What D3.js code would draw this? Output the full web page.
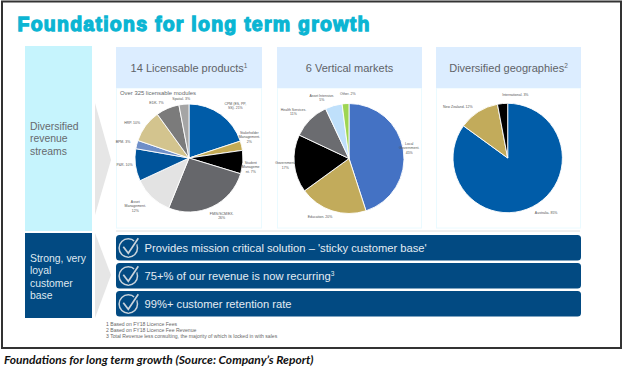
<!DOCTYPE html>
<html>
<head>
<meta charset="utf-8">
<script src="https://cdn.jsdelivr.net/npm/d3@7"></script>
<style>
  html, body { margin: 0; padding: 0; background: #fff; }
  svg { display: block; }
  text { font-family: "Liberation Sans", Arial, sans-serif; }
</style>
</head>
<body>
<div id="container"></div>
<script>
let w = 622;
let h = 370;

// chart values, slices
let productNames = ["CPM (ES, PP,|SS). 21%", "Stakeholder|Management.|2%", "Student|Manageme|nt. 7%", "FMIS/SCM/EX.|26%", "Asset|Management.|12%", "P&R. 10%", "BPM. 3%", "HRP. 10%", "EDK. 7%", "Spatial. 3%"];
let productValues = [20, 2.8, 7, 26.5, 12, 9.7, 2.5, 9.8, 7, 3];
let productColors = ["#005ca8", "#c4ab55", "#000000", "#66676b", "#e3e3e3", "#00549b", "#6f8fc8", "#d3c48e", "#7b7b7b", "#a5a5a5"];

let marketNames = ["Local|Government.|45%", "Education. 20%", "Government.|17%", "Health Services.|11%", "Asset Intensive.|5%", "Other. 2%"];
let marketValues = [45, 20, 17, 11, 5, 2];
let marketColors = ["#4472c4", "#c2ab5b", "#000000", "#6b6c70", "#bfe0fb", "#9ed553"];

let geoNames = ["Australia. 85%", "New Zealand. 12%", "International. 3%"];
let geoValues = [85, 12, 3];
let geoColors = ["#005ca8", "#c2ab5b", "#000000"];

let headers = ["14 Licensable products", "6 Vertical markets", "Diversified geographies"];
let headerSups = ["1", "", "2"];
let bullets = ["Provides mission critical solution \u2013 'sticky customer base'", "75+% of our revenue is now recurring", "99%+ customer retention rate"];
let bulletSups = ["", "3", ""];
let footnotes = ["1 Based on FY18 Licence Fees", "2 Based on FY18 Licence Fee Revenue", "3 Total Revenue less consulting, the majority of which is locked in with sales"];

let svg = d3.select("#container").append("svg")
  .attr("width", w)
  .attr("height", h);

// frame
svg.append("rect").attr("x", 2).attr("y", 1.5).attr("width", 619).attr("height", 346.5)
  .attr("fill", "#fff").attr("stroke", "#333").attr("stroke-width", 2);

svg.append("text").attr("x", 17.5).attr("y", 31)
  .text("Foundations for long term growth")
  .attr("font-size", 19.5).attr("font-weight", "bold").attr("letter-spacing", 1.25)
  .attr("fill", "#0bb5d3").attr("stroke", "#0bb5d3").attr("stroke-width", 1.3);

// left column
svg.append("rect").attr("x", 25).attr("y", 46).attr("width", 67).attr("height", 185).attr("fill", "#c6f4fd");
svg.append("rect").attr("x", 25).attr("y", 233).attr("width", 67).attr("height", 85).attr("fill", "#024a82");

function leftText(lines, y0, color) {
  svg.append("g").selectAll("text").data(lines).enter().append("text")
    .attr("x", 30).attr("y", (d, i) => y0 + i * 12.4)
    .attr("font-size", 10.4).attr("fill", color)
    .text(d => d);
}
leftText(["Diversified", "revenue", "streams"], 130, "#666a6e");
leftText(["Strong, very", "loyal", "customer", "base"], 262, "#dfe8f0");

// chevrons
svg.append("path").attr("d", "M95,103 L111,160 L95,215 Z").attr("fill", "#e6e6e6");
svg.append("path").attr("d", "M95,233 L111,275 L95,318 Z").attr("fill", "#e6e6e6");

// panels
let panelX = [116, 277, 436];
let panelW = [146, 145, 145];
panelX.forEach(function(x, i) {
  svg.append("rect").attr("x", x + 0.5).attr("y", 88).attr("width", panelW[i] - 1).attr("height", 140)
    .attr("fill", "#fff").attr("stroke", "#eafaff").attr("stroke-width", 1);
  svg.append("rect").attr("x", x).attr("y", 47).attr("width", panelW[i]).attr("height", 41).attr("fill", "#dcedff");
  let t = svg.append("text").attr("x", x + panelW[i] / 2).attr("y", 72)
    .attr("text-anchor", "middle").attr("font-size", 11).attr("fill", "#5f6368")
    .text(headers[i]);
  if (headerSups[i]) {
    t.append("tspan").attr("dy", -4).attr("font-size", 6.5).text(headerSups[i]);
  }
});

svg.append("text").attr("x", 120).attr("y", 95).attr("font-size", 5.9).attr("fill", "#66696d")
  .text("Over 325 licensable modules");

// one pie, labels pushed out from the slice middle plus a small nudge
function drawPie(cx, cy, r, names, values, colors, nudges) {
  let pie = d3.pie().sort(null).value(d => d);
  let arc = d3.arc().innerRadius(0).outerRadius(r);
  let g = svg.append("g").attr("transform", "translate(" + cx + "," + cy + ")");
  let arcs = pie(values);

  g.selectAll("path").data(arcs).enter().append("path")
    .attr("d", arc)
    .attr("fill", (d, i) => colors[i])
    .attr("stroke", "#fff").attr("stroke-width", 0.9);

  let labels = g.selectAll("text").data(arcs).enter().append("text")
    .attr("text-anchor", "middle")
    .attr("font-size", 3.5)
    .attr("fill", "#555");

  labels.each(function(d, i) {
    let mid = (d.startAngle + d.endAngle) / 2;
    let x = Math.sin(mid) * (r + 8) + nudges[i][0];
    let y = -Math.cos(mid) * (r + 8) + nudges[i][1];
    d3.select(this).selectAll("tspan").data(names[i].split("|")).enter().append("tspan")
      .attr("x", x)
      .attr("y", (t, k) => y + k * 4.5)
      .text(t => t);
  });
}

let productNudges = [[10, -3], [0, -10], [0, 1], [6, 1], [-11, 0], [-3, 0], [-6, 0.5], [-7, 2.5], [-8, 3], [-2, 3.3]];
let marketNudges = [[-2, -4], [-9.5, 0], [-1, 0], [-11, -3], [-9.7, -1.5], [2.7, -0.6]];
let geoNudges = [[10, 0.6], [-16.3, 3], [13.5, 0.9]];

drawPie(189, 158, 54, productNames, productValues, productColors, productNudges);
drawPie(349, 158.5, 55, marketNames, marketValues, marketColors, marketNudges);
drawPie(507.7, 158, 54.7, geoNames, geoValues, geoColors, geoNudges);

// divider and bullet rows
svg.append("line").attr("x1", 116).attr("x2", 580).attr("y1", 231).attr("y2", 231)
  .attr("stroke", "#dedede").attr("stroke-width", 1);

let rowY = [235, 263, 291];
bullets.forEach(function(b, i) {
  let y = rowY[i];
  let check = "M123.3," + (y + 11.7) + " L128.3," + (y + 18.3) + " L138.3," + (y + 3.3);
  svg.append("rect").attr("x", 116).attr("y", y).attr("width", 465).attr("height", 25.5)
    .attr("rx", 3.5).attr("fill", "#024a82");
  svg.append("circle").attr("cx", 128.3).attr("cy", y + 13).attr("r", 9.2)
    .attr("fill", "none").attr("stroke", "#c9d3dc").attr("stroke-width", 1.5);
  svg.append("path").attr("d", check)
    .attr("fill", "none").attr("stroke", "#024a82").attr("stroke-width", 4);
  svg.append("path").attr("d", check)
    .attr("fill", "none").attr("stroke", "#c9d3dc").attr("stroke-width", 1.7);
  let t = svg.append("text").attr("x", 144.5).attr("y", y + 16.5)
    .attr("font-size", 11.2).attr("fill", "#e4ecf3")
    .text(b);
  if (bulletSups[i]) {
    t.append("tspan").attr("dy", -4).attr("font-size", 6.5).text(bulletSups[i]);
  }
});

svg.append("g").selectAll("text").data(footnotes).enter().append("text")
  .attr("x", 106).attr("y", (d, i) => 325.5 + i * 6)
  .attr("font-size", 5.1).attr("fill", "#666")
  .text(d => d);

svg.append("text").attr("x", 4).attr("y", 364)
  .attr("font-size", 12).attr("font-weight", "bold").attr("font-style", "italic")
  .attr("fill", "#111")
  .style("font-family", "Lato, sans-serif")
  .text("Foundations for long term growth (Source: Company\u2019s Report)");
</script>
</body>
</html>
